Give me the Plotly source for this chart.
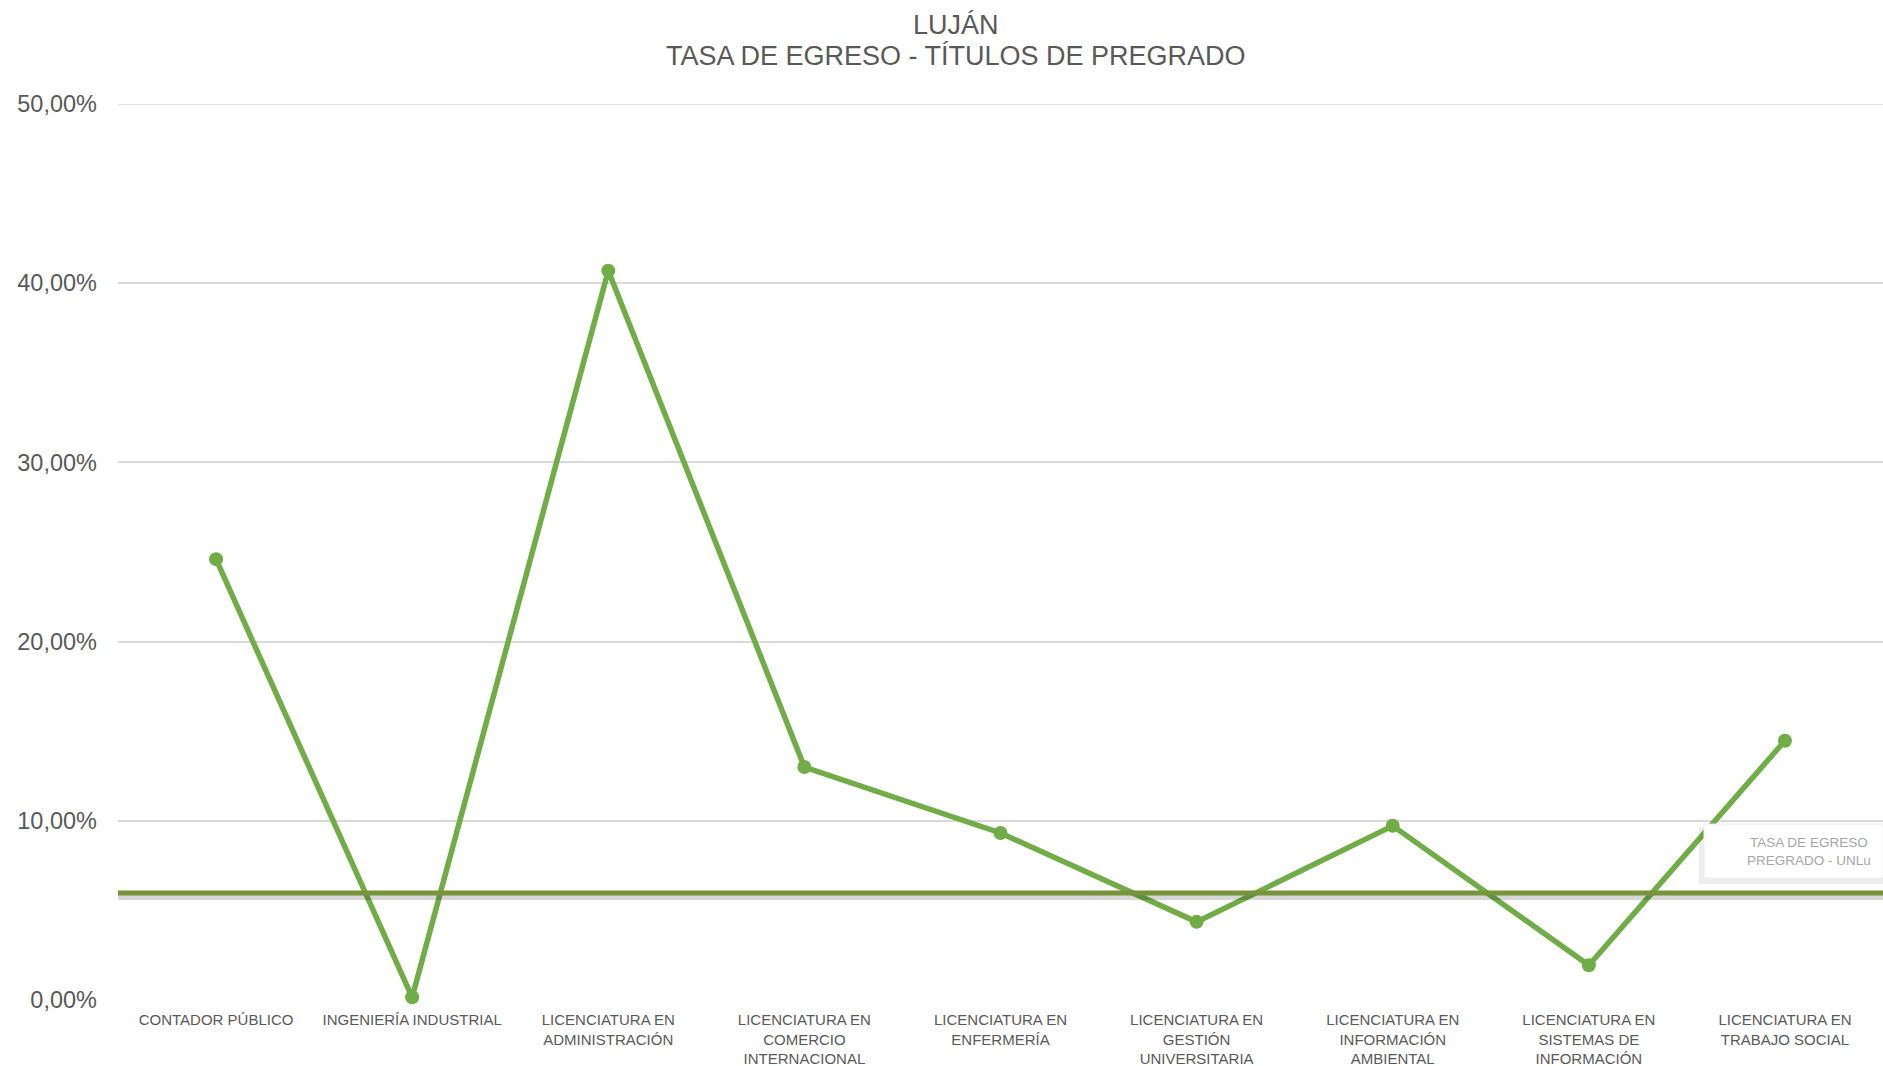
import plotly.graph_objects as go

categories = [
    "CONTADOR PÚBLICO",
    "INGENIERÍA INDUSTRIAL",
    "LICENCIATURA EN<br>ADMINISTRACIÓN",
    "LICENCIATURA EN<br>COMERCIO<br>INTERNACIONAL",
    "LICENCIATURA EN<br>ENFERMERÍA",
    "LICENCIATURA EN<br>GESTIÓN<br>UNIVERSITARIA",
    "LICENCIATURA EN<br>INFORMACIÓN<br>AMBIENTAL",
    "LICENCIATURA EN<br>SISTEMAS DE<br>INFORMACIÓN",
    "LICENCIATURA EN<br>TRABAJO SOCIAL",
]
tasa_egreso = [0.246, 0.0015, 0.407, 0.130, 0.0932, 0.0436, 0.0972, 0.0194, 0.1447]
tasa_unlu = 0.0597
ref_label = "TASA DE EGRESO<br>PREGRADO - UNLu"
title_lines = ["LUJÁN", "TASA DE EGRESO - TÍTULOS DE PREGRADO"]
y_ticks = [0, 0.1, 0.2, 0.3, 0.4, 0.5]

W, H = 1883, 1066
ML, MR, MT, MB = 118, 0, 103.5, 65.5
ymax = 0.5
PH = H - MT - MB
PW = W - ML - MR
px_per_unit = PH / ymax

fig = go.Figure()
fig.add_trace(go.Scatter(
    x=categories, y=tasa_egreso, mode="lines+markers",
    line=dict(color="#70AD47", width=5.5),
    marker=dict(color="#70AD47", size=14),
    showlegend=False, hoverinfo="x+y", cliponaxis=False,
))

# top gridline (at range edge)
fig.add_shape(type="line", xref="paper", x0=0, x1=1, yref="y", y0=ymax, y1=ymax,
              line=dict(color="#D9D9D9", width=1.5), layer="below")

# shadow + reference line
fig.add_shape(type="line", xref="paper", x0=0, x1=1, yref="y",
              y0=tasa_unlu - 4 / px_per_unit, y1=tasa_unlu - 4 / px_per_unit,
              line=dict(color="rgba(0,0,0,0.16)", width=6), layer="above")
fig.add_shape(type="line", xref="paper", x0=0, x1=1, yref="y",
              y0=tasa_unlu, y1=tasa_unlu,
              line=dict(color="#77933C", width=5), layer="above")

# label box with shadow
bx0, bx1 = (1704 - ML) / PW, 1.0
fig.add_shape(type="rect", xref="paper", yref="y",
              x0=bx0 - 5 / PW, x1=bx1, y0=tasa_unlu + 9 / px_per_unit, y1=tasa_unlu + 66 / px_per_unit,
              fillcolor="rgba(0,0,0,0.07)", line=dict(width=0), layer="above")
fig.add_shape(type="rect", xref="paper", yref="y",
              x0=bx0, x1=bx1, y0=tasa_unlu + 15 / px_per_unit, y1=tasa_unlu + 69 / px_per_unit,
              fillcolor="white", line=dict(color="#EDEDED", width=1), layer="above")
fig.add_annotation(xref="paper", yref="y", x=(1809 - ML) / PW, y=tasa_unlu + 42 / px_per_unit,
                   text=ref_label, showarrow=False,
                   font=dict(family="Liberation Sans, Arial", size=13.5, color="#A6A6A6"),
                   xanchor="center", yanchor="middle")

# title (two lines)
for line_text, ycen in zip(title_lines, [24, 55]):
    fig.add_annotation(xref="paper", yref="paper", x=(956 - ML) / PW, y=1 + (MT - ycen) / PH,
                       text=line_text, showarrow=False, xanchor="center", yanchor="middle",
                       font=dict(family="Liberation Sans, Arial", size=27, color="#595959"))

fig.update_layout(
    width=W, height=H,
    margin=dict(l=ML, r=MR, t=MT, b=MB, autoexpand=False),
    paper_bgcolor="white", plot_bgcolor="white",
    separators=",.",
    font=dict(family="Liberation Sans, Arial", color="#595959"),
    xaxis=dict(range=[-0.5, len(categories) - 0.5], showgrid=False, showline=False,
               ticks="", tickfont=dict(size=15, color="#595959"), tickangle=0,
               ticklabelstandoff=9,
               fixedrange=True, zeroline=False, automargin=False),
    yaxis=dict(range=[0, ymax], tickvals=y_ticks, tickformat=".2%",
               showgrid=True, gridcolor="#D9D9D9", gridwidth=1.5,
               zeroline=False, showline=False, ticks="",
               tickfont=dict(size=23.5, color="#595959"), ticklabelstandoff=20,
               fixedrange=True, automargin=False),
)

fig.write_html("out.html", config={"displayModeBar": False},
               post_script="document.body.style.margin='0';document.body.style.overflow='hidden';")
